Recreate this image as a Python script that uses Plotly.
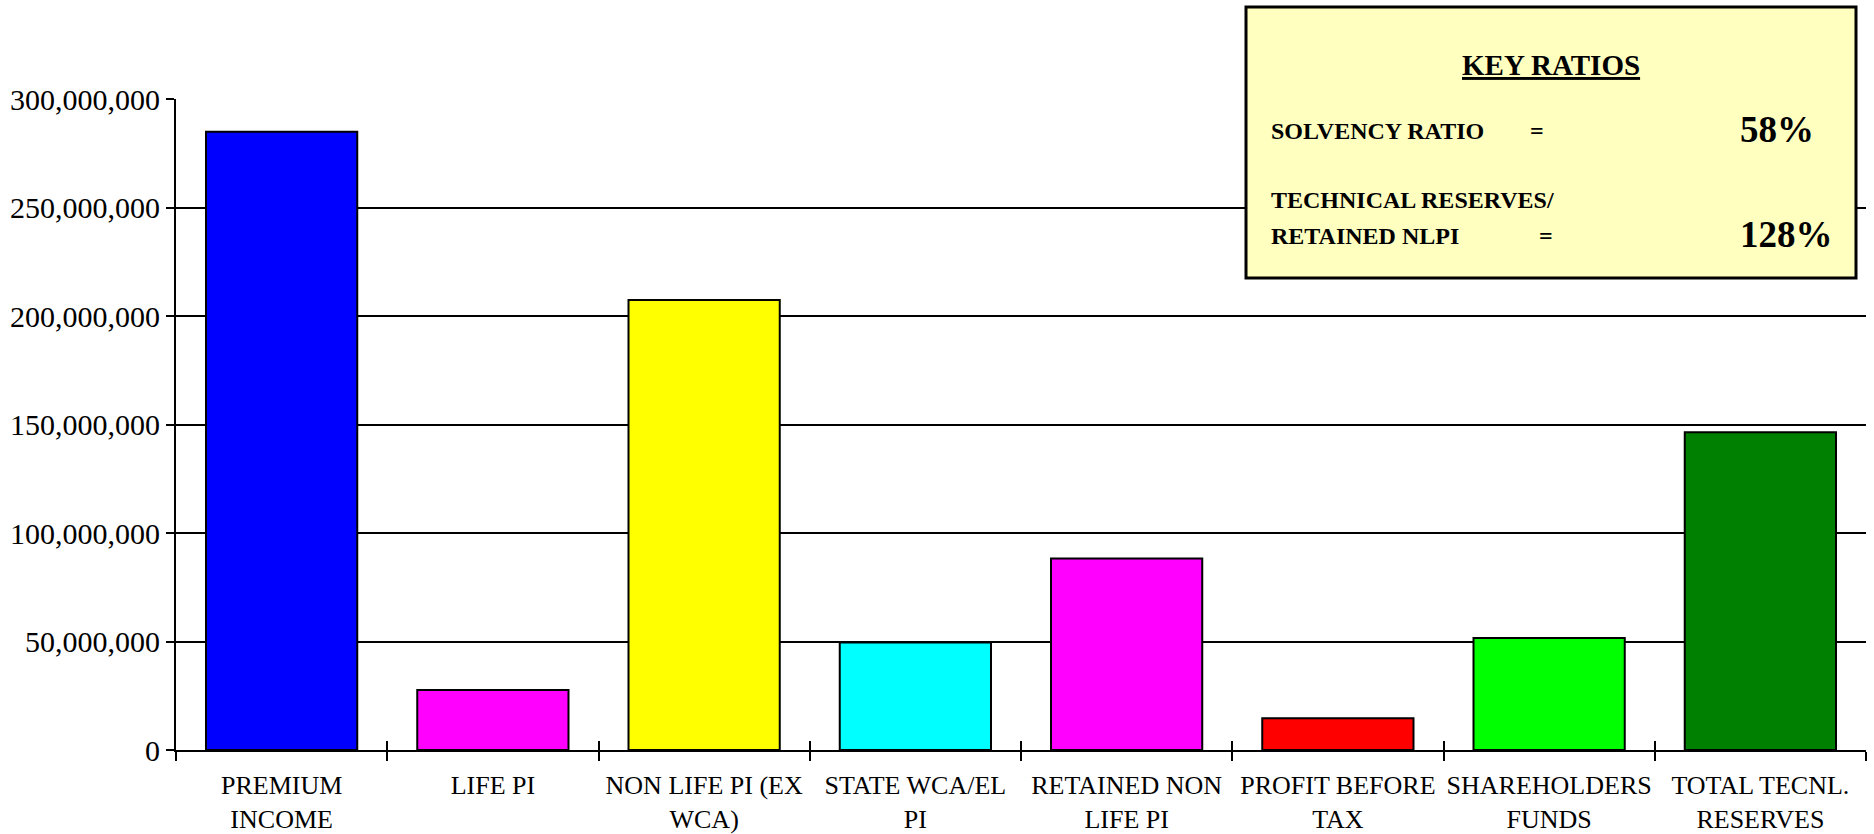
import plotly.graph_objects as go

# ---- data ----
categories = [
    "PREMIUM<br>INCOME",
    "LIFE PI",
    "NON LIFE PI (EX<br>WCA)",
    "STATE WCA/EL<br>PI",
    "RETAINED NON<br>LIFE PI",
    "PROFIT BEFORE<br>TAX",
    "SHAREHOLDERS<br>FUNDS",
    "TOTAL TECNL.<br>RESERVES",
]
values = [284900000, 27600000, 207400000, 49500000, 88300000, 14600000, 51600000, 146400000]
bar_colors = ["#0000FF", "#FF00FF", "#FFFF00", "#00FFFF", "#FF00FF", "#FF0000", "#00FF00", "#008000"]
y_ticks = [0, 50000000, 100000000, 150000000, 200000000, 250000000, 300000000]

ratio_title = "KEY RATIOS"
ratio_labels = ["SOLVENCY RATIO", "TECHNICAL RESERVES/", "RETAINED NLPI"]
ratio_values = ["58%", "128%"]

# ---- layout geometry (pixels) ----
W, H = 1874, 834
L, R, T, B = 176, 8, 99, 84
PW, PH = W - L - R, H - T - B


def px(x):
    return (x - L) / PW


def py(y):
    return (H - B - y) / PH


FONT = "Liberation Serif, Times New Roman, serif"

fig = go.Figure()
fig.add_trace(go.Bar(
    x=categories, y=values,
    marker=dict(color=bar_colors, line=dict(color="black", width=2)),
    showlegend=False, hoverinfo="skip",
))
# helper trace for the inside half of the category ticks
idx = list(range(len(categories)))
fig.add_trace(go.Scatter(
    x=idx, y=values, xaxis="x2", mode="markers",
    marker=dict(opacity=0), showlegend=False, hoverinfo="skip",
))

fig.update_layout(
    width=W, height=H,
    margin=dict(l=L, r=R, t=T, b=B, autoexpand=False),
    paper_bgcolor="white", plot_bgcolor="white",
    bargap=0.284,
    font=dict(family=FONT, color="black"),
    xaxis=dict(
        type="category", tickson="boundaries", ticks="outside", ticklen=9, tickwidth=2,
        tickcolor="black", showline=True, linecolor="black", linewidth=2,
        showgrid=False, tickfont=dict(size=26, family=FONT, color="black"),
        tickangle=0, ticklabelstandoff=11, automargin=False, fixedrange=True,
    ),
    xaxis2=dict(
        overlaying="x", side="bottom", range=[-0.5, len(categories) - 0.5],
        tickmode="array", tickvals=[i - 0.5 for i in range(len(categories) + 1)],
        ticks="inside", ticklen=9, tickwidth=2, tickcolor="black",
        showticklabels=False, showgrid=False, showline=False, zeroline=False,
        fixedrange=True,
    ),
    yaxis=dict(
        range=[0, 300000000], tickmode="array", tickvals=y_ticks, tickformat=",",
        ticks="outside", ticklen=8, tickwidth=2, tickcolor="black",
        showline=True, linecolor="black", linewidth=2,
        showgrid=True, gridcolor="black", gridwidth=2, zeroline=False,
        tickfont=dict(size=30, family=FONT, color="black"),
        automargin=False, fixedrange=True,
    ),
)

# key ratios box
fig.add_shape(type="rect", xref="paper", yref="paper",
              x0=px(1246), x1=px(1856), y0=py(278), y1=py(7),
              fillcolor="#FFFFC0", line=dict(color="black", width=3), layer="above")


def note(x, y, text, size, anchor="left"):
    fig.add_annotation(xref="paper", yref="paper", x=px(x), y=py(y), text=text,
                       showarrow=False, xanchor=anchor, yanchor="middle",
                       font=dict(size=size, family=FONT, color="black"))


note(1551, 65, "<b><u>" + ratio_title + "</u></b>", 29, "center")
note(1269, 131, "<b>" + ratio_labels[0] + "</b>", 24)
note(1537, 131, "<b>=</b>", 24, "center")
note(1738, 129, "<b>" + ratio_values[0] + "</b>", 37)
note(1269, 200, "<b>" + ratio_labels[1] + "</b>", 24)
note(1269, 236, "<b>" + ratio_labels[2] + "</b>", 24)
note(1546, 236, "<b>=</b>", 24, "center")
note(1738, 234, "<b>" + ratio_values[1] + "</b>", 37)

fig.write_html("out.html", config={"displayModeBar": False},
               post_script="document.body.style.margin='0';document.body.style.overflow='hidden';")
